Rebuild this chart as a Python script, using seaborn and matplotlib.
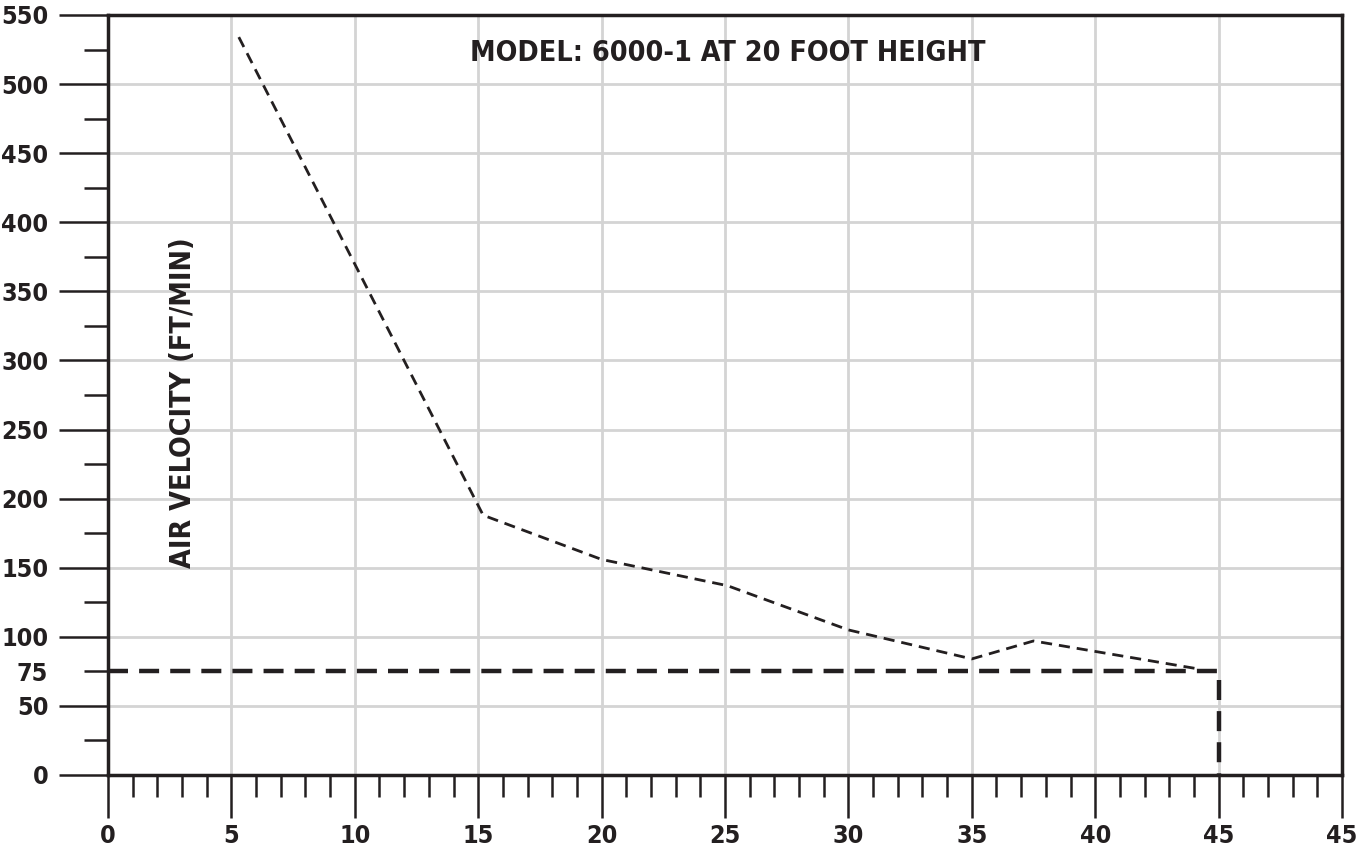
import numpy as np
import pandas as pd
import matplotlib
matplotlib.use("Agg")
import matplotlib.pyplot as plt
import seaborn as sns
from matplotlib.ticker import FixedLocator, FixedFormatter

# values
distance_ft = [5.3, 15.2, 20.0, 25.1, 30.0, 35.0, 37.5, 44.1]
velocity_fpm = [534, 188, 156, 137, 105, 84, 97, 77]

limit_x = [0, 45, 45]
limit_y = [75, 75, 0]

x_major = [0, 5, 10, 15, 20, 25, 30, 35, 40, 45, 50]
x_labels = ["0", "5", "10", "15", "20", "25", "30", "35", "40", "45", "45"]
x_minor = [v for v in range(0, 51) if v % 5 != 0]
y_major = [0, 50, 100, 150, 200, 250, 300, 350, 400, 450, 500, 550]
y_minor = [25, 75, 125, 175, 225, 275, 325, 375, 425, 475, 525]
y_minor_labels = ["" if v != 75 else "75" for v in y_minor]

title_text = "MODEL: 6000-1 AT 20 FOOT HEIGHT"
ylabel_text = "AIR VELOCITY (FT/MIN)"

sns.set_style("white")
plt.rcParams["font.family"] = ["Liberation Sans Narrow", "DejaVu Sans"]
plt.rcParams["font.stretch"] = "condensed"
plt.rcParams["font.weight"] = "bold"

ink = "#231f20"
grid_col = "#d4d4d4"

fig = plt.figure(figsize=(13.64, 8.5), dpi=100)
ax = fig.add_axes([108 / 1364, 75 / 850, (1342 - 108) / 1364, (775 - 15) / 850])

df = pd.DataFrame({"x": distance_ft, "y": velocity_fpm})
sns.lineplot(data=df, x="x", y="y", ax=ax, color=ink, linewidth=2.0,
             linestyle=(0, (4, 2.5)), sort=False, zorder=3)
ax.plot(limit_x, limit_y, color=ink, linewidth=3.2,
        linestyle=(0, (4.5, 2.5)), zorder=3)

ax.set_xlim(0, 50)
ax.set_ylim(0, 550)

ax.xaxis.set_major_locator(FixedLocator(x_major))
ax.xaxis.set_major_formatter(FixedFormatter(x_labels))
ax.xaxis.set_minor_locator(FixedLocator(x_minor))
ax.yaxis.set_major_locator(FixedLocator(y_major))
ax.yaxis.set_minor_locator(FixedLocator(y_minor))
ax.yaxis.set_minor_formatter(FixedFormatter(y_minor_labels))

ax.tick_params(which="both", bottom=True, left=True, top=False, right=False)
ax.tick_params(axis="x", which="major", direction="out", length=31, width=1.8,
               color=ink, pad=4, labelsize=18, labelcolor=ink)
ax.tick_params(axis="x", which="minor", direction="out", length=16, width=1.8,
               color=ink)
ax.tick_params(axis="y", which="major", direction="out", length=35, width=1.8,
               color=ink, pad=8, labelsize=18, labelcolor=ink)
ax.tick_params(axis="y", which="minor", direction="out", length=17.5, width=1.8,
               color=ink, pad=26, labelsize=18, labelcolor=ink)

ax.grid(True, which="major", color=grid_col, linewidth=2.0, zorder=0)
ax.set_axisbelow(True)
for s in ax.spines.values():
    s.set_color(ink)
    s.set_linewidth(2.5)

ax.set_xlabel("")
ax.set_ylabel("")
ax.text(0.502, 0.95, title_text, transform=ax.transAxes, ha="center",
        va="center", fontsize=20.5, fontweight="bold", color=ink)
ax.text(0.061, 0.49, ylabel_text, transform=ax.transAxes, ha="center",
        va="center", rotation=90, fontsize=20.5, fontweight="bold", color=ink)

fig.savefig("out.png", dpi=100)
